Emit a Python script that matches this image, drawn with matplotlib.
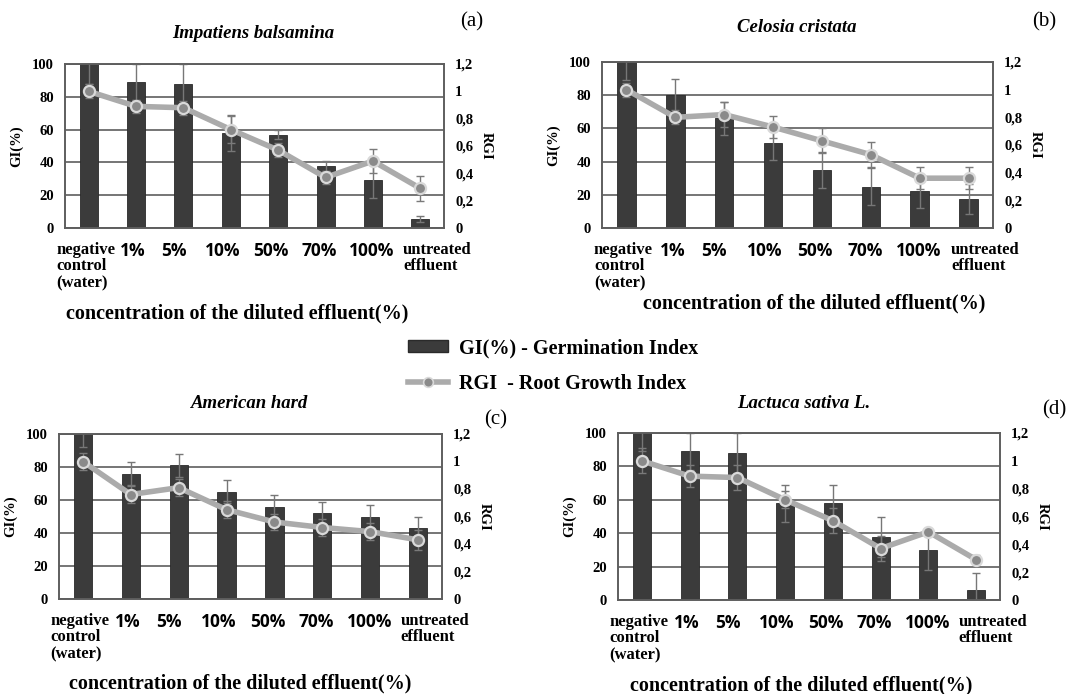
import matplotlib
matplotlib.use("Agg")
import matplotlib.pyplot as plt
import matplotlib.transforms as mtransforms
from matplotlib.patches import Patch
from matplotlib.lines import Line2D
import numpy as np

# --- Data ---
CATEGORIES = ["negative\ncontrol\n(water)", "1%", "5%", "10%", "50%", "70%", "100%",
              "untreated\neffluent"]

TITLES = ["Impatiens balsamina", "Celosia cristata", "American hard", "Lactuca sativa L."]
PANEL_TAGS = ["(a)", "(b)", "(c)", "(d)"]

gi_a = [100, 89, 88, 58, 57, 38, 29, 5.5]
gi_err_a = [12, 11, 12, 11, 3, 3, 11, 2]
rgi_a = [1.0, 0.89, 0.88, 0.72, 0.57, 0.37, 0.49, 0.29]
rgi_err_a = [0.05, 0.05, 0.05, 0.10, 0.05, 0.05, 0.09, 0.09]

gi_b = [100, 80, 66, 51, 35, 25, 22, 17.5]
gi_err_b = [11, 10, 10, 10, 11, 11, 10, 9]
rgi_b = [1.0, 0.80, 0.82, 0.73, 0.63, 0.53, 0.36, 0.36]
rgi_err_b = [0.05, 0.05, 0.09, 0.08, 0.09, 0.09, 0.08, 0.08]

gi_c = [100, 76, 81, 65, 56, 52, 50, 43]
gi_err_c = [8, 7, 7, 7, 7, 7, 7, 7]
rgi_c = [1.0, 0.76, 0.81, 0.65, 0.56, 0.52, 0.49, 0.43]
rgi_err_c = [0.06, 0.06, 0.06, 0.06, 0.06, 0.06, 0.06, 0.07]

gi_d = [100, 89, 88, 58, 58, 38, 30, 6]
gi_err_d = [11, 11, 12, 11, 11, 12, 12, 10]
rgi_d = [1.0, 0.89, 0.88, 0.72, 0.57, 0.37, 0.49, 0.29]
rgi_err_d = [0.09, 0.08, 0.09, 0.06, 0.09, 0.09, 0.02, 0.03]

PANELS = [
    (gi_a, gi_err_a, rgi_a, rgi_err_a),
    (gi_b, gi_err_b, rgi_b, rgi_err_b),
    (gi_c, gi_err_c, rgi_c, rgi_err_c),
    (gi_d, gi_err_d, rgi_d, rgi_err_d),
]

# --- Layout (pixel boxes measured on the 1068x694 reference) ---
W, H = 1068, 694
AX_BOX = [(65, 64, 444, 228), (602, 62, 993, 228), (59, 434, 442, 599), (618, 433, 1000, 600)]
TITLE_XY = [(253, 33), (797, 28), (250, 403), (804, 403)]
TAG_XY = [(472, 22), (1044, 22), (496, 420), (1054, 410)]
XLABEL_XY = [(237, 313), (814, 303), (240, 683), (801, 685)]
# Excel places the category labels a bit off-centre; horizontal nudges in px
LABEL_DX = [-3, -3, -10, -8, -7, -6, -1, 17]

SERIF = "Liberation Serif"
SANS = "Open Sans"
BAR_COLOR = "#3b3b3b"
LINE_COLOR = "#ababab"
MARKER_FACE = "#8a8a8a"
MARKER_EDGE = "#d9d9d9"
GRID_COLOR = "#5e5e5e"

fig = plt.figure(figsize=(W / 100, H / 100), dpi=100)


def fx(px):
    return px / W


def fy(py):
    return 1 - py / H


x = np.arange(len(CATEGORIES))

for i, (gi, gi_err, rgi, rgi_err) in enumerate(PANELS):
    l, t, r, b = AX_BOX[i]
    ax = fig.add_axes([fx(l), fy(b), fx(r - l), (b - t) / H])
    ax2 = ax.twinx()

    # horizontal grid lines behind bars
    ax.set_axisbelow(True)
    ax.yaxis.grid(True, color=GRID_COLOR, lw=1.2)

    ax.bar(x, gi, width=0.38, color=BAR_COLOR, edgecolor="#2a2a2a", lw=0.6, zorder=2)
    ax.errorbar(x, gi, yerr=gi_err, fmt="none", ecolor="#777777", elinewidth=1.0,
                capsize=3, capthick=1.0, zorder=3)

    ax2.errorbar(x, rgi, yerr=rgi_err, fmt="none", ecolor="#7a7a7a", elinewidth=1.0,
                 capsize=3, capthick=1.0, zorder=3)
    ax2.plot(x, rgi, color=LINE_COLOR, lw=4, marker="o", ms=8,
             mfc=MARKER_FACE, mec=MARKER_EDGE, mew=1.6, zorder=4)

    ax.set_xlim(-0.5, len(CATEGORIES) - 0.5)
    ax.set_ylim(0, 100)
    ax2.set_ylim(0, 1.2)
    ax.set_yticks([0, 20, 40, 60, 80, 100])
    ax2.set_yticks([0, 0.2, 0.4, 0.6, 0.8, 1.0, 1.2])
    ax2.set_yticklabels(["0", "0,2", "0,4", "0,6", "0,8", "1", "1,2"])

    for spine in list(ax.spines.values()) + list(ax2.spines.values()):
        spine.set_color(GRID_COLOR)
        spine.set_linewidth(1.2)

    ax.tick_params(axis="y", length=0, pad=8, labelsize=10.5)
    ax2.tick_params(axis="y", length=0, pad=8, labelsize=10.5)
    for lab in ax.get_yticklabels() + ax2.get_yticklabels():
        lab.set_fontfamily(SERIF)
        lab.set_fontweight("bold")

    ax.set_xticks(x)
    ax.set_xticklabels(CATEGORIES, multialignment="left", va="top", linespacing=1.05)
    ax.tick_params(axis="x", length=0, pad=10)
    for k, lab in enumerate(ax.get_xticklabels()):
        if "%" in lab.get_text():
            lab.set_fontfamily(SANS)
            lab.set_fontweight("bold")
            lab.set_fontsize(12.5)
        else:
            lab.set_fontfamily(SERIF)
            lab.set_fontweight("bold")
            lab.set_fontsize(12)
        shift = mtransforms.ScaledTranslation(LABEL_DX[k] / 100, 0, fig.dpi_scale_trans)
        lab.set_transform(lab.get_transform() + shift)

    ax.set_ylabel("GI(%)", fontfamily=SERIF, fontweight="bold", fontsize=10.5, labelpad=6)
    ax2.set_ylabel("RGI", fontfamily=SERIF, fontweight="bold", fontsize=10.5,
                   rotation=270, labelpad=14)

    fig.text(fx(TITLE_XY[i][0]), fy(TITLE_XY[i][1]), TITLES[i], ha="center", va="center",
             fontfamily=SERIF, fontweight="bold", fontstyle="italic", fontsize=13.5)
    fig.text(fx(TAG_XY[i][0]), fy(TAG_XY[i][1]), PANEL_TAGS[i], ha="center", va="center",
             fontfamily=SERIF, fontsize=15)
    fig.text(fx(XLABEL_XY[i][0]), fy(XLABEL_XY[i][1]),
             "concentration of the diluted effluent(%)", ha="center", va="center",
             fontfamily=SERIF, fontweight="bold", fontsize=14.5)

# --- Shared legend ---
handles = [
    Patch(facecolor=BAR_COLOR, edgecolor="#2a2a2a"),
    Line2D([0], [0], color=LINE_COLOR, lw=4, marker="o", ms=7,
           mfc=MARKER_FACE, mec=MARKER_EDGE, mew=1.2),
]
fig.legend(handles, ["GI(%) - Germination Index", "RGI  - Root Growth Index"],
           loc="center", bbox_to_anchor=(fx(553), fy(366)), frameon=False,
           prop=dict(family=SERIF, weight="bold", size=14.5), handlelength=2.0,
           handleheight=0.55, handletextpad=0.5, labelspacing=0.75)

fig.savefig("out.png", dpi=100)
plt.close(fig)
